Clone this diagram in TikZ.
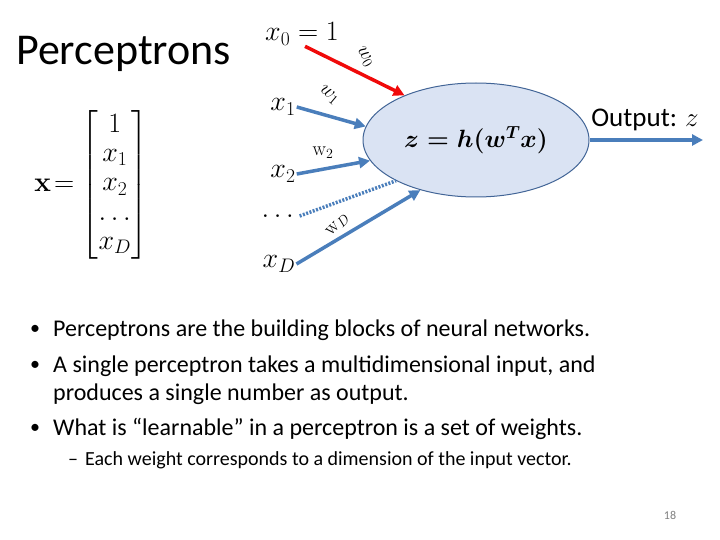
\RequirePackage{fix-cm}
\documentclass[tikz,border=0pt]{standalone}
\usepackage{amsmath}
\usepackage[no-math]{fontspec}
\setmainfont{Carlito}
\usetikzlibrary{arrows.meta, shapes.geometric, positioning}

\definecolor{wblue}{RGB}{74,126,187}
\definecolor{wred}{RGB}{240,10,10}
\definecolor{cellfill}{RGB}{218,227,243}
\definecolor{celldraw}{RGB}{65,100,150}

\begin{document}
\begin{tikzpicture}[x=1pt, y=-1pt,
    mathlbl/.style={inner sep=1pt, font=\fontsize{28}{32}\selectfont},
    wlbl/.style={inner sep=0pt, font=\fontsize{20}{22}\selectfont},
    bodytext/.style={anchor=base west, inner sep=0pt, font=\fontsize{24}{28}\selectfont},
    subtext/.style={anchor=base west, inner sep=0pt, font=\fontsize{20}{24}\selectfont},
    weight/.style={line width=3.5pt, draw=wblue, -{Triangle[length=11pt, width=11pt]}},
    neuronbox/.style={ellipse, draw=celldraw, line width=1pt, fill=cellfill,
        minimum width=226pt, minimum height=114pt}]
    \useasboundingbox (0,0) rectangle (720,540);

    % title
    \node [anchor=base west, inner sep=0pt, font=\fontsize{44}{50}\selectfont] (title) at (16,65) {Perceptrons};

    % input vector
    \node [mathlbl] (vec) at (91,185)
        {$\mathbf{x}\!=\renewcommand{\arraystretch}{0.92}\begin{bmatrix}1\\x_1\\x_2\\\dots\\x_D\end{bmatrix}$};

    % perceptron
    \node [neuronbox] (neuron) at (476,140) {\fontsize{25}{28}\selectfont$\boldsymbol{z=h(w^T x)}$};
    \coordinate (out) at (703,140);

    % inputs
    \node [mathlbl] (x0) at (302,34) {$x_0=1$};
    \node [mathlbl] (x1) at (283,107) {$x_1$};
    \node [mathlbl] (x2) at (283,174) {$x_2$};
    \node [mathlbl] (xdots) at (280,216) {$\dots$};
    \node [mathlbl] (xD) at (279,264) {$x_D$};

    % weights
    \draw [weight, draw=wred] (x0.south) ++(3,0) -- (neuron.148);
    \draw [weight] (x1.east) -- (neuron.173);
    \draw [weight] (x2.east) -- (neuron.191);
    \draw [line width=3.5pt, draw=wblue, dash pattern=on 2pt off 1.5pt] (xdots.east) -- (neuron.207);
    \draw [weight] (xD.east) -- (neuron.222);

    \node [wlbl, rotate=-60] (lw0) at (365,57) {$w_0$};
    \node [wlbl, rotate=-40] (lw1) at (329,95) {$w_1$};
    \node [wlbl] (lw2) at (323,153) {$\mathrm{w}_2$};
    \node [wlbl, rotate=45] (lwD) at (338,225) {$\mathrm{w}_D$};

    % output
    \draw [weight] (neuron.east) -- (out);
    \node [anchor=base, inner sep=0pt, font=\fontsize{27}{30}\selectfont] (outlbl) at (645,127) {Output: $z$};

    % bullets
    \node [bodytext, font=\fontsize{20}{24}\selectfont] (d1) at (30,334) {\textbullet};
    \node [bodytext] (b1) at (53,336) {Perceptrons are the building blocks of neural networks.};
    \node [bodytext, font=\fontsize{20}{24}\selectfont] (d2) at (30,370) {\textbullet};
    \node [bodytext] (b2) at (53,372) {A single perceptron takes a multidimensional input, and};
    \node [bodytext] (b2b) at (53,400) {produces a single number as output.};
    \node [bodytext, font=\fontsize{20}{24}\selectfont] (d3) at (30,433) {\textbullet};
    \node [bodytext] (b3) at (53,435) {What is “learnable” in a perceptron is a set of weights.};
    \node [subtext] (d4) at (68,465) {\textendash};
    \node [subtext] (b4) at (85,465) {Each weight corresponds to a dimension of the input vector.};

    % slide number
    \node [anchor=base, inner sep=0pt, text=gray, font=\fontsize{12}{14}\selectfont] (pagenum) at (670,519) {18};
\end{tikzpicture}
\end{document}
